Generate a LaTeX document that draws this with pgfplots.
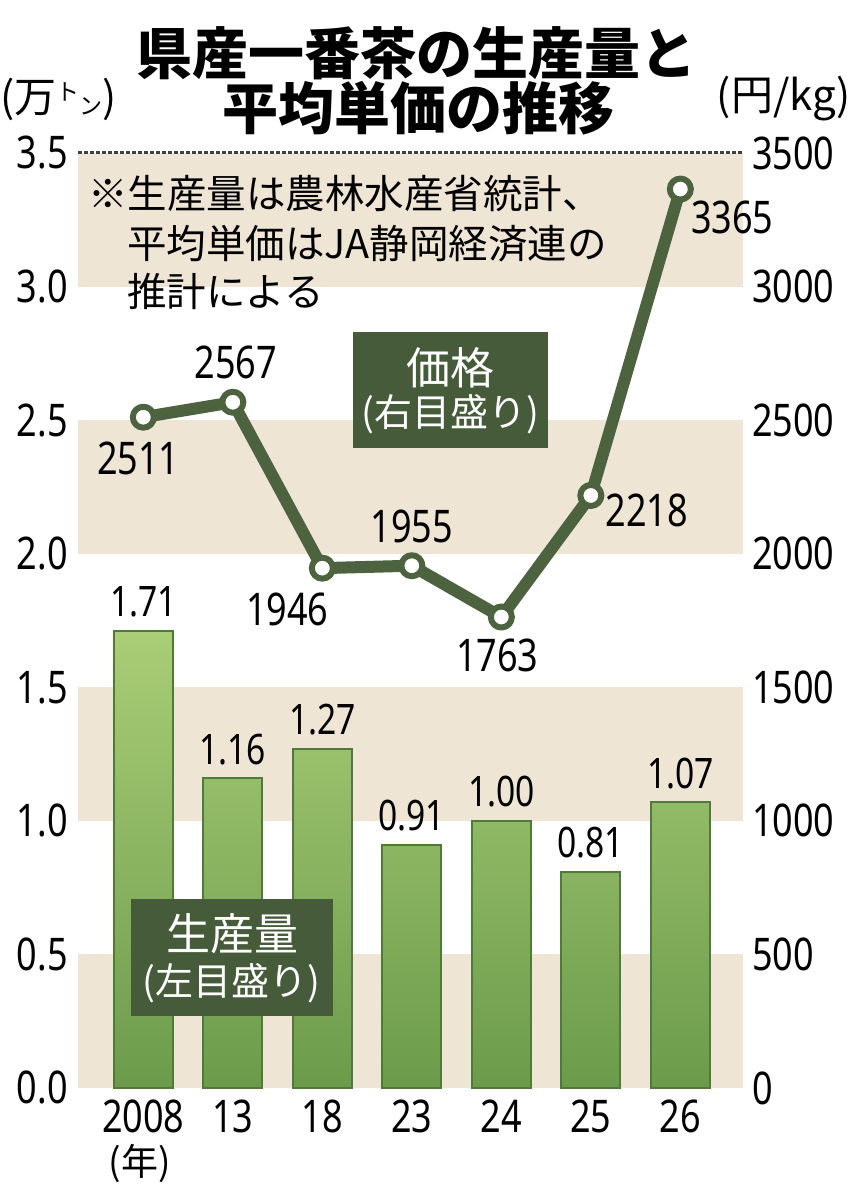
\documentclass[border=0pt]{standalone}
\usepackage{fontspec}
\setmainfont{Noto Sans CJK JP}
\newfontfamily\numfont[FakeStretch=0.8]{Noto Sans}
\usepackage{pgfplots}
\pgfplotsset{compat=1.18}
\definecolor{beige}{HTML}{EFE5D4}
\definecolor{dkgreen}{HTML}{4D6340}
\definecolor{boxgreen}{HTML}{465B3A}
\definecolor{bartop}{HTML}{AACD77}
\definecolor{barbot}{HTML}{6B9B4A}
\definecolor{barline}{HTML}{4F7A3B}
\newcommand\nf{\numfont\fontsize{45}{47}\selectfont}
\newcommand\barf{\numfont\fontsize{42}{44}\selectfont}
\begin{document}
\begin{tikzpicture}[x=1pt,y=1pt]
\useasboundingbox (0,0) rectangle (851,1200);
\begin{axis}[
  at={(78pt,112pt)}, anchor=south west,
  scale only axis, width=665pt, height=935pt,
  xmin=-0.73, xmax=6.70, ymin=0, ymax=3.5,
  clip=false,
  axis line style={draw=none}, major tick style={draw=none},
  xtick=\empty,
  ytick={0,0.5,1,1.5,2,2.5,3,3.5},
  /pgf/number format/assume math mode=true,
  yticklabel style={font=\nf, anchor=east, inner sep=0pt, xshift=-10pt,
     /pgf/number format/.cd, fixed, fixed zerofill, precision=1},
]
\fill[beige] (axis cs:-0.73,0) rectangle (axis cs:6.70,0.5);
\fill[beige] (axis cs:-0.73,1) rectangle (axis cs:6.70,1.5);
\fill[beige] (axis cs:-0.73,2) rectangle (axis cs:6.70,2.5);
\fill[beige] (axis cs:-0.73,3) rectangle (axis cs:6.70,3.5);
\addplot[ybar, bar width=0.66, draw=barline, line width=2pt,
  top color=bartop, bottom color=barbot,
  nodes near coords={\pgfmathprintnumber[fixed,fixed zerofill,precision=2]{\pgfplotspointmeta}},
  every node near coord/.append style={font=\barf, text=black, anchor=center, inner sep=0pt, yshift=29pt}]
  coordinates {(0,1.71)(1,1.16)(2,1.27)(3,0.91)(4,1.00)(5,0.81)(6,1.07)};
\draw[dash pattern=on 3.5pt off 2.5pt, line width=3pt, color=black!75] (axis cs:-0.73,3.5) -- (axis cs:6.70,3.5);
\node[font=\nf, inner sep=0pt, yshift=-28pt] at (axis cs:0,0) {2008};
\node[font=\nf, inner sep=0pt, yshift=-28pt] at (axis cs:1,0) {13};
\node[font=\nf, inner sep=0pt, yshift=-28pt] at (axis cs:2,0) {18};
\node[font=\nf, inner sep=0pt, yshift=-28pt] at (axis cs:3,0) {23};
\node[font=\nf, inner sep=0pt, yshift=-28pt] at (axis cs:4,0) {24};
\node[font=\nf, inner sep=0pt, yshift=-28pt] at (axis cs:5,0) {25};
\node[font=\nf, inner sep=0pt, yshift=-28pt] at (axis cs:6,0) {26};
\end{axis}
\begin{axis}[
  at={(78pt,112pt)}, anchor=south west,
  scale only axis, width=665pt, height=935pt,
  xmin=-0.73, xmax=6.70, ymin=0, ymax=3500,
  clip=false,
  axis line style={draw=none}, major tick style={draw=none},
  xtick=\empty,
  ytick={0,500,1000,1500,2000,2500,3000,3500},
  yticklabel pos=right,
  /pgf/number format/assume math mode=true,
  /pgf/number format/1000 sep={},
  yticklabel style={font=\nf, anchor=west, inner sep=0pt, xshift=9pt},
]
\addplot[dkgreen, line width=12pt, line join=round, mark=*, mark size=10.5pt,
  mark options={fill=white, draw=dkgreen, line width=6pt}]
  coordinates {(0,2511)(1,2567)(2,1946)(3,1955)(4,1763)(5,2218)(6,3365)};
\node[font=\nf, inner sep=0pt, xshift=-5pt, yshift=-41pt] at (axis cs:0,2511) {2511};
\node[font=\nf, inner sep=0pt, xshift=3pt, yshift=40pt] at (axis cs:1,2567) {2567};
\node[font=\nf, inner sep=0pt, xshift=-35pt, yshift=-41pt] at (axis cs:2,1946) {1946};
\node[font=\nf, inner sep=0pt, xshift=0pt, yshift=39pt] at (axis cs:3,1955) {1955};
\node[font=\nf, inner sep=0pt, xshift=-4pt, yshift=-38pt] at (axis cs:4,1763) {1763};
\node[font=\nf, inner sep=0pt, xshift=56pt, yshift=-15pt] at (axis cs:5,2218) {2218};
\node[font=\nf, inner sep=0pt, xshift=52pt, yshift=-28pt] at (axis cs:6,3365) {3365};
\end{axis}
% title
\node[font=\bfseries\fontsize{56}{56}\selectfont, inner sep=0pt] at (416,1147) {県産一番茶の生産量と};
\node[font=\bfseries\fontsize{56}{56}\selectfont, inner sep=0pt] at (418,1092) {平均単価の推移};
% units
\node[font=\fontsize{42}{42}\selectfont, anchor=west, inner sep=0pt] at (0,1101) {(万{\fontsize{23}{23}\selectfont\raisebox{12pt}{ト}\raisebox{-2pt}{ン}})};
\node[font=\fontsize{42}{42}\selectfont, anchor=east, inner sep=0pt] at (851,1101) {(円/kg)};
\node[font=\fontsize{37}{37}\selectfont, inner sep=0pt] at (140,36) {(年)};
% note
\node[font=\fontsize{39.5}{39.5}\selectfont, anchor=west, inner sep=0pt] at (88,1006) {※生産量は農林水産省統計、};
\node[font=\fontsize{39.5}{39.5}\selectfont, anchor=west, inner sep=0pt] at (127,956) {平均単価はJA静岡経済連の};
\node[font=\fontsize{39.5}{39.5}\selectfont, anchor=west, inner sep=0pt] at (127,909) {推計による};
% price box
\fill[boxgreen] (353,868) rectangle (548,752);
\node[font=\fontsize{44}{44}\selectfont, text=white, inner sep=0pt] at (450,832) {価格};
\node[font=\fontsize{38}{38}\selectfont, text=white, inner sep=0pt] at (450,786) {(右目盛り)};
% production box
\fill[boxgreen] (131,301) rectangle (333,184);
\node[font=\fontsize{44}{44}\selectfont, text=white, inner sep=0pt] at (232,266) {生産量};
\node[font=\fontsize{38}{38}\selectfont, text=white, inner sep=0pt] at (231,217) {(左目盛り)};
\end{tikzpicture}
\end{document}
